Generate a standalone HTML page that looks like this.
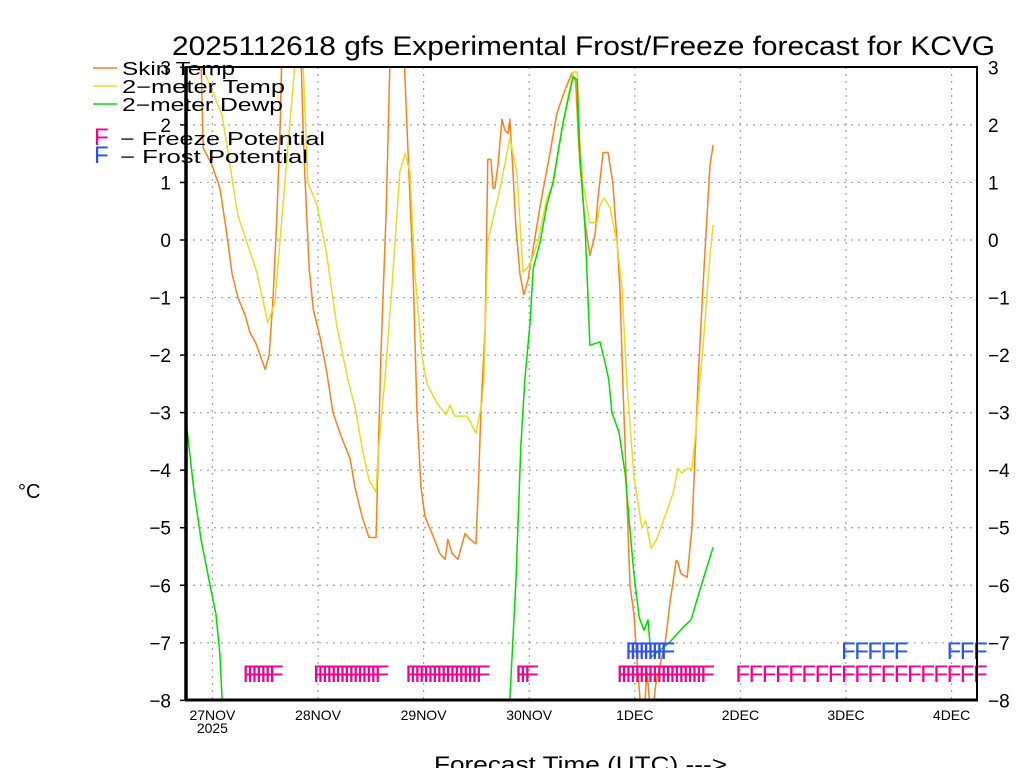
<!DOCTYPE html>
<html><head><meta charset="utf-8"><style>
html,body{margin:0;padding:0;background:#fff;}
svg{display:block;font-family:"Liberation Sans",sans-serif;}
</style></head>
<body>
<svg id="chart" width="1024" height="768" viewBox="0 0 1024 768">
<defs><clipPath id="plotclip"><rect x="186" y="67" width="791" height="633"/></clipPath></defs>
<text x="172" y="55" font-size="27" textLength="823" lengthAdjust="spacingAndGlyphs">2025112618 gfs Experimental Frost/Freeze forecast for KCVG</text>
<g id="grid"></g>
<g id="series" clip-path="url(#plotclip)"></g>
<g id="marks"></g>
<g id="axes"></g>
<g>
<line x1="93" y1="68" x2="117" y2="68" stroke="#f5821f" stroke-width="1.5"/>
<text x="122" y="75" font-size="18" textLength="113" lengthAdjust="spacingAndGlyphs">Skin Temp</text>
<line x1="93" y1="86" x2="117" y2="86" stroke="#e6dc28" stroke-width="1.5"/>
<text x="122" y="93" font-size="18" textLength="163" lengthAdjust="spacingAndGlyphs">2−meter Temp</text>
<line x1="93" y1="104" x2="117" y2="104" stroke="#00dc00" stroke-width="1.5"/>
<text x="122" y="111" font-size="18" textLength="161" lengthAdjust="spacingAndGlyphs">2−meter Dewp</text>
<text x="94" y="145" font-size="24" fill="#f0008c">F</text>
<text x="120" y="145" font-size="18" textLength="205" lengthAdjust="spacingAndGlyphs">−  Freeze Potential</text>
<text x="94" y="163" font-size="24" fill="#2850f0">F</text>
<text x="120" y="163" font-size="18" textLength="188" lengthAdjust="spacingAndGlyphs">−  Frost Potential</text>
</g>
<text x="18" y="498" font-size="20">°C</text>
<text x="434" y="772" font-size="22" textLength="293" lengthAdjust="spacingAndGlyphs">Forecast Time (UTC) ---&gt;</text>
</svg>
<script>
const yTicks = [-8,-7,-6,-5,-4,-3,-2,-1,0,1,2,3];
const dayLabels = ["27NOV","28NOV","29NOV","30NOV","1DEC","2DEC","3DEC","4DEC"];
const dayHours = [6,30,54,78,102,126,150,174];
const skinHours = [0,3.4,3.9,5.9,7.7,9.1,10.5,11.8,13.4,14.5,15.9,17.3,18,18.9,19.8,20.7,21.4,21.8,26.1,26.8,28,28.9,30.5,32,33.4,35.2,37.3,38.4,40,41.6,43.2,43.6,44.3,45.5,46.4,49.5,50.2,51.6,52.5,53.4,54.3,55.9,57.7,58.9,59.5,60.5,61.8,63.4,64.5,65.9,66.6,67,68,68.6,69.3,69.8,70.2,70.9,71.8,72.5,73.2,73.6,74.3,75,75.9,76.8,77.7,78.6,80.5,82.7,84.3,86.1,87.7,88.6,89.1,89.5,90.7,91.8,93,93.6,94.8,95.9,97,98,98.6,99.3,100.2,100.9,101.8,102.5,103.4,104.1,104.8,105.5,106.1,106.8,107.7,108.9,110,111.4,111.8,112.5,113.9,115,116.4,117.5,119.1,119.8];
const skinTemp = [4.0,3.2,1.6,1.3,0.9,0.2,-0.6,-1.0,-1.3,-1.6,-1.8,-2.1,-2.25,-2.0,-1.0,0.5,2.0,3.3,3.3,1.5,-0.5,-1.2,-1.7,-2.3,-3.0,-3.4,-3.8,-4.3,-4.8,-5.17,-5.17,-4.0,-2.0,0.5,3.3,3.3,2.0,-0.5,-3.0,-4.3,-4.8,-5.1,-5.45,-5.55,-5.2,-5.45,-5.55,-5.1,-5.2,-5.28,-4.0,-3.0,-1.5,1.4,1.4,0.9,0.9,1.3,2.1,1.9,1.85,2.1,1.2,0.2,-0.6,-0.95,-0.7,-0.3,0.6,1.5,2.2,2.6,2.9,2.75,1.9,1.35,0.3,-0.27,0.1,0.7,1.52,1.52,1.0,-0.05,-0.8,-2.5,-4.5,-6.0,-6.5,-7.3,-8.2,-8.2,-7.5,-8.2,-8.2,-7.7,-7.4,-7.0,-6.3,-5.57,-5.6,-5.8,-5.86,-5.0,-2.4,-0.8,1.3,1.65];
const t2mHours = [0,4.3,8.2,11.8,16.1,18.6,20.2,21.4,23,24.8,26.6,27.7,29.8,32,34.3,36.8,38.4,40,41.6,43.2,43.6,44.5,45.2,46.8,48.6,49.8,50.9,52,53.6,54.8,57,59.1,60,61.1,63.9,65.9,67.3,67.7,68.6,71.4,73.6,75.2,76.6,78.2,80,82,83.4,85,86.6,88,88.9,89.5,90.2,91.8,93.4,94.1,95,96.4,98,99.1,100.2,100.9,101.8,103.6,104.5,105.7,107,110.7,111.8,112.7,113.9,115,115.9,116.8,117.5,119.1,119.8];
const t2mTemp = [3.5,2.9,2.17,0.43,-0.56,-1.44,-1.08,0.03,1.48,3.1,3.1,1.0,0.6,-0.26,-1.5,-2.43,-2.9,-3.6,-4.17,-4.38,-3.8,-3.0,-2.43,-0.83,1.18,1.5,1.18,-0.56,-2.0,-2.5,-2.83,-3.04,-2.87,-3.06,-3.06,-3.36,-2.8,-2.43,-0.03,0.9,1.77,1.18,-0.56,-0.43,-0.03,0.73,0.96,1.7,2.4,2.92,2.92,1.7,1.0,0.3,0.3,0.6,0.73,0.56,-0.08,-0.83,-2.5,-3.2,-4.1,-5.0,-4.88,-5.36,-5.2,-4.4,-3.97,-4.05,-3.97,-3.97,-3.3,-2.43,-1.88,-0.26,0.26];
const dewHours = [0,1.8,3.4,5.2,6.8,7.7,8.4,8.9,73.2,73.6,75,76.1,77,78.2,78.9,80.5,82,83.4,85.7,88,88.9,89.5,90.7,91.1,91.8,94.1,95.2,96.1,96.8,98.4,99.8,100.9,101.8,103,104.1,105,105.7,109.8,113,114.8,117,119.8];
const dewTemp = [-3.13,-4.35,-5.2,-5.9,-6.5,-7.2,-8.3,-9,-9,-8.0,-5.9,-3.6,-2.43,-1.43,-0.5,-0.03,0.6,1.0,2.05,2.84,2.78,1.48,0.2,-0.49,-1.83,-1.77,-2.12,-2.43,-3.0,-3.34,-4.05,-5.04,-5.8,-6.56,-6.78,-6.6,-7.25,-7.0,-6.73,-6.6,-6.03,-5.34];
const freezeHours = [14,15,16,17,18,19,20,30,31,32,33,34,35,36,37,38,39,40,41,42,43,44,51,52,53,54,55,56,57,58,59,60,61,62,63,64,65,66,67,76,77,78,99,100,101,102,103,104,105,106,107,108,109,110,111,112,113,114,115,116,117,118,126,129,132,135,138,141,144,147,150,153,156,159,162,165,168,171,174,177,180];
const frostHours = [101,102,103,104,105,106,107,108,109,150,153,156,159,162,174,177,180];

const NS = "http://www.w3.org/2000/svg";
const X0 = 186, PXH = 4.4, Y0 = 240, PXV = 57.545;
function xs(h){ return X0 + h*PXH; }
function ys(v){ return Y0 - v*PXV; }
function mk(tag, attrs, parent){
  const el = document.createElementNS(NS, tag);
  for (const k in attrs) el.setAttribute(k, attrs[k]);
  parent.appendChild(el);
  return el;
}
const grid = document.getElementById('grid');
const axes = document.getElementById('axes');
const series = document.getElementById('series');
const marks = document.getElementById('marks');

yTicks.forEach(v => {
  const y = ys(v);
  if (v > -8 && v < 3) {
    const g = mk('line', {x1:186, x2:977, y1:y, y2:y, stroke:'#a0a0a0', 'stroke-width':1.2, 'stroke-dasharray':'2 5'}, grid);
    
    
  }
  const tl = mk('line', {x1:180, x2:186, y1:y, y2:y, stroke:'#000', 'stroke-width':1.5}, axes);
  
  
  const lab = mk('text', {x:171, y:y+7, 'font-size':19, 'text-anchor':'end'}, axes);
  lab.textContent = v < 0 ? '−' + Math.abs(v) : String(v);
  
  
  const rl = mk('text', {x:988, y:y+7, 'font-size':19}, axes);
  rl.textContent = v < 0 ? '−' + Math.abs(v) : String(v);
  
  
});
dayHours.forEach((h, i) => {
  const x = xs(h);
  const g = mk('line', {x1:x, x2:x, y1:67, y2:700, stroke:'#a0a0a0', 'stroke-width':1.2, 'stroke-dasharray':'2 5'}, grid);
  
  
  const t = mk('text', {x:x, y:720, 'font-size':14, 'text-anchor':'middle'}, axes);
  t.textContent = dayLabels[i];
  
  
});
const yr = mk('text', {x:xs(dayHours[0]), y:733, 'font-size':14, 'text-anchor':'middle'}, axes);
yr.textContent = '2025';


const frame = mk('path', {d:'M186,67 H977 V700 H186 Z', fill:'none', stroke:'#000', 'stroke-width':2}, axes);


const laxis = mk('line', {x1:186, x2:186, y1:67, y2:701, stroke:'#000', 'stroke-width':3.5}, axes);


const baxis = mk('line', {x1:185, x2:978, y1:700, y2:700, stroke:'#000', 'stroke-width':3}, axes);



function drawLine(hours, vals, color, name){
  const d = hours.map((h,i) => (i ? 'L' : 'M') + xs(h).toFixed(1) + ',' + ys(vals[i]).toFixed(1)).join(' ');
  const p = mk('path', {d:d, fill:'none', stroke:color, 'stroke-width':1.5, 'stroke-linejoin':'round'}, series);
  
  
}
drawLine(skinHours, skinTemp, '#f5821f', 'skin-temp-line');
drawLine(t2mHours, t2mTemp, '#e6dc28', 't2m-temp-line');
drawLine(dewHours, dewTemp, '#00dc00', 'dewpoint-line');

freezeHours.forEach(h => {
  const t = mk('text', {x:xs(h)-5, y:682, 'font-size':24, fill:'#f0008c'}, marks);
  t.textContent = 'F';
  
  
});
frostHours.forEach(h => {
  const t = mk('text', {x:xs(h)-5, y:659, 'font-size':24, fill:'#2850f0'}, marks);
  t.textContent = 'F';
  
  
});
</script>
</body></html>
